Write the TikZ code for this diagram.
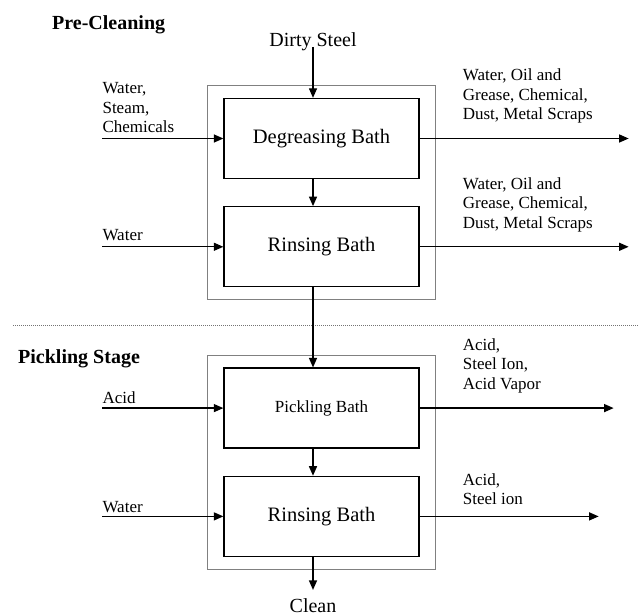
\documentclass[tikz,border=0pt]{standalone}
\usepackage{fontspec}
\setmainfont{Liberation Serif}
\usetikzlibrary{positioning,fit,arrows.meta}

\begin{document}
\begin{tikzpicture}[x=1pt,y=1pt,>={Triangle[length=9.5pt,width=8pt]}]
    \tikzstyle{bath}=[draw,line width=1.3pt,minimum width=195pt,minimum height=80pt,inner sep=0,font=\fontsize{20.5}{24}\selectfont]
    \tikzstyle{stage}=[draw=black!50,line width=0.9pt,inner xsep=15.5pt,inner ysep=12pt]
    \tikzstyle{flow}=[->,line width=1.3pt]
    \tikzstyle{stream}=[inner sep=0,align=left,anchor=base west,font=\fontsize{17}{19.5}\selectfont]
    \tikzstyle{title}=[inner sep=0,anchor=base west,font=\fontsize{20}{24}\selectfont\bfseries]
    \tikzstyle{terminal}=[inner sep=0,anchor=base,font=\fontsize{20}{24}\selectfont]

    \useasboundingbox (0,0) rectangle (639,615);

    \node[bath] (degrease) at (321.5,476.5) {Degreasing Bath};
    \node[bath,below=27pt of degrease] (rinse1) {Rinsing Bath};
    \node[bath,below=80pt of rinse1,font=\fontsize{17}{20}\selectfont] (pickle) {Pickling Bath};
    \node[bath,below=27pt of pickle] (rinse2) {Rinsing Bath};

    \node[stage,fit=(degrease)(rinse1)] (precleaning) {};
    \node[stage,fit=(pickle)(rinse2)] (pickling) {};

    \node[title] (pretitle) at (52,585) {Pre-Cleaning};
    \node[title] (picktitle) at (18,251) {Pickling Stage};
    \node[terminal] (dirty) at (313,568) {Dirty Steel};
    \node[terminal] (clean) at (313,3) {Clean};

    \coordinate[left=121pt of degrease.west] (in1);
    \coordinate[left=121pt of rinse1.west] (in2);
    \coordinate[left=121pt of pickle.west] (in3);
    \coordinate[left=121pt of rinse2.west] (in4);
    \coordinate[right=209pt of degrease.east] (out1);
    \coordinate[right=209pt of rinse1.east] (out2);
    \coordinate[right=194pt of pickle.east] (out3);
    \coordinate[right=179pt of rinse2.east] (out4);

    \node[stream] (feed1) at ([yshift=5.5pt]in1) {Water,\\Steam,\\Chemicals};
    \node[stream] (feed2) at ([yshift=6.5pt]in2) {Water};
    \node[stream] (feed3) at ([yshift=5pt]in3) {Acid};
    \node[stream] (feed4) at ([yshift=3.5pt]in4) {Water};
    \node[stream] (waste1) at ([xshift=43pt,yshift=18.5pt]degrease.east) {Water, Oil and\\Grease, Chemical,\\Dust, Metal Scraps};
    \node[stream] (waste2) at ([xshift=43pt,yshift=18.5pt]rinse1.east) {Water, Oil and\\Grease, Chemical,\\Dust, Metal Scraps};
    \node[stream] (waste3) at ([xshift=43pt,yshift=19pt]pickle.east) {Acid,\\Steel Ion,\\Acid Vapor};
    \node[stream] (waste4) at ([xshift=43pt,yshift=11.5pt]rinse2.east) {Acid,\\Steel ion};

    \draw[black!55,line width=0.9pt,dash pattern=on 1pt off 1pt] (13,290) -- (639,290);

    \draw[flow] (dirty.base) -- (degrease.north -| dirty);
    \draw[flow] (degrease.south -| dirty) -- (rinse1.north -| dirty);
    \draw[flow] (rinse1.south -| dirty) -- (pickle.north -| dirty);
    \draw[flow] (pickle.south -| dirty) -- (rinse2.north -| dirty);
    \draw[flow,shorten >=8pt] (rinse2.south -| clean) -- (clean.north);

    \draw[flow] (in1) -- (degrease.west);
    \draw[flow] (in2) -- (rinse1.west);
    \draw[flow] (in3) -- (pickle.west);
    \draw[flow] (in4) -- (rinse2.west);
    \draw[flow] (degrease.east) -- (out1);
    \draw[flow] (rinse1.east) -- (out2);
    \draw[flow] (pickle.east) -- (out3);
    \draw[flow] (rinse2.east) -- (out4);
\end{tikzpicture}
\end{document}
